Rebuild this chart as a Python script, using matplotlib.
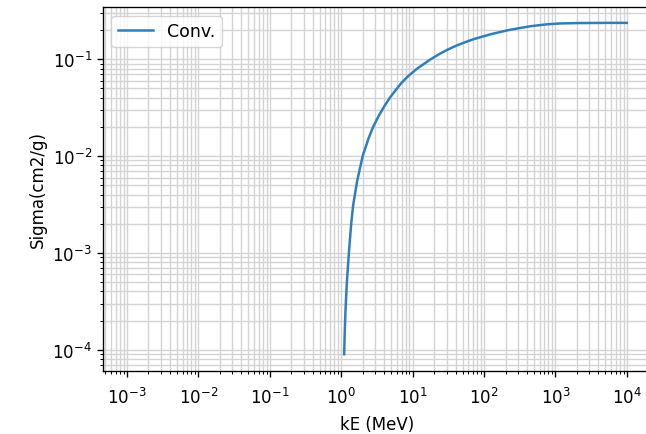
import matplotlib
matplotlib.use("Agg")
import matplotlib.pyplot as plt

# values (kinetic energy in MeV, sigma in cm2/g)
kE = [1.10, 1.12, 1.15, 1.20, 1.29, 1.38, 1.47, 1.67, 2.0, 2.4, 2.8, 3.4,
      4.0, 4.8, 5.8, 7.0, 8.5, 11.6, 17.6, 24.2, 32, 42, 55, 70, 90, 121,
      170, 216, 300, 450, 760, 1200, 2200, 5000, 10000]
sigma = [9.0e-5, 1.5e-4, 2.6e-4, 5.0e-4, 1.07e-3, 2.0e-3, 3.1e-3, 5.5e-3,
         0.0100, 0.0150, 0.0200, 0.0265, 0.0325, 0.040, 0.048, 0.057, 0.066,
         0.080, 0.099, 0.114, 0.127, 0.139, 0.150, 0.160, 0.169, 0.180,
         0.191, 0.199, 0.208, 0.219, 0.229, 0.234, 0.236, 0.237, 0.237]

s = 1.2
plt.rcParams.update({
    "font.size": 12,
    "axes.linewidth": 0.8 * s,
    "xtick.major.size": 3.5 * s, "ytick.major.size": 3.5 * s,
    "xtick.minor.size": 2 * s, "ytick.minor.size": 2 * s,
    "xtick.major.width": 0.8 * s, "ytick.major.width": 0.8 * s,
    "xtick.minor.width": 0.6 * s, "ytick.minor.width": 0.6 * s,
    "xtick.major.pad": 7,
})

fig = plt.figure(figsize=(6.46, 4.35), dpi=100)
ax = fig.add_axes([0.159, 0.145, 0.85, 0.837])

ax.plot(kE, sigma, color="#2f7fba", linewidth=1.8, label="Conv.")
ax.set_xscale("log")
ax.set_yscale("log")
ax.set_xlim(10**-3.34, 10**4.35)
ax.set_ylim(6.05e-5, 0.347)
ax.set_xlabel("kE (MeV)", labelpad=6)
ax.set_ylabel("Sigma(cm2/g)")
ax.grid(True, which="both", color="#d3d3d3", linewidth=1.0)
ax.legend(loc="upper left", fontsize=12.5)

fig.savefig("out.png", dpi=100)
